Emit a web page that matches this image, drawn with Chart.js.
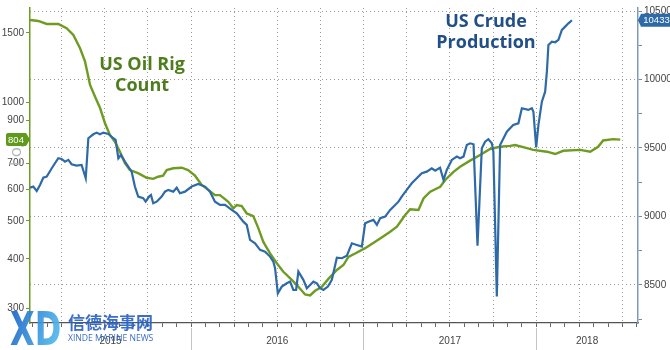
<!DOCTYPE html>
<html>
<head>
<meta charset="utf-8">
<script src="https://cdn.jsdelivr.net/npm/chart.js@4.4.0/dist/chart.umd.min.js"></script>
<style>
  body { margin: 0; background: #fff; }
</style>
</head>
<body>
<canvas id="chart" width="670" height="350"></canvas>
<script>
// US oil rig count (left, log scale) - decimal years
const rigYears = [2015.067, 2015.115, 2015.164, 2015.231, 2015.279, 2015.318, 2015.357, 2015.386, 2015.415, 2015.444,
  2015.473, 2015.501, 2015.530, 2015.559, 2015.588, 2015.617, 2015.646, 2015.693, 2015.743, 2015.781,
  2015.809, 2015.838, 2015.859, 2015.897, 2015.946, 2015.983, 2016.023, 2016.062, 2016.100, 2016.139,
  2016.168, 2016.216, 2016.245, 2016.265, 2016.294, 2016.323, 2016.361, 2016.390, 2016.419, 2016.458,
  2016.497, 2016.535, 2016.584, 2016.622, 2016.661, 2016.690, 2016.719, 2016.758, 2016.796, 2016.845,
  2016.883, 2016.912, 2016.951, 2017.009, 2017.038, 2017.096, 2017.154, 2017.193, 2017.241, 2017.270,
  2017.318, 2017.347, 2017.386, 2017.444, 2017.473, 2017.521, 2017.559, 2017.617, 2017.675, 2017.733,
  2017.791, 2017.849, 2017.878, 2017.925, 2017.983, 2018.062, 2018.110, 2018.157, 2018.255, 2018.313,
  2018.359, 2018.388, 2018.446, 2018.487];
const rigCount = [1619, 1609, 1581, 1581, 1542, 1483, 1372, 1268, 1107, 1033,
  967, 886, 826, 794, 749, 701, 673, 661, 643, 639,
  647, 651, 673, 680, 682, 673, 651, 617, 599, 581,
  581, 559, 538, 548, 545, 522, 514, 479, 442, 413,
  390, 371, 354, 340, 325, 323, 332, 340, 356, 375,
  386, 405, 413, 426, 434, 451, 469, 483, 517, 535,
  533, 570, 593, 610, 635, 666, 686, 711, 735, 761,
  771, 775, 779, 769, 757, 749, 739, 753, 757, 749,
  771, 800, 806, 804];

// US crude production (right axis, kb/d)
const prodYears = [2015.067, 2015.086, 2015.106, 2015.125, 2015.144, 2015.164, 2015.193, 2015.231, 2015.250, 2015.270,
  2015.289, 2015.308, 2015.337, 2015.366, 2015.390, 2015.405, 2015.434, 2015.453, 2015.472, 2015.492,
  2015.521, 2015.550, 2015.563, 2015.579, 2015.594, 2015.617, 2015.656, 2015.675, 2015.694, 2015.723,
  2015.737, 2015.757, 2015.768, 2015.781, 2015.801, 2015.830, 2015.849, 2015.868, 2015.897, 2015.917,
  2015.936, 2015.965, 2016.004, 2016.042, 2016.081, 2016.110, 2016.139, 2016.168, 2016.197, 2016.236,
  2016.265, 2016.303, 2016.323, 2016.342, 2016.371, 2016.400, 2016.429, 2016.458, 2016.477, 2016.487,
  2016.503, 2016.526, 2016.555, 2016.574, 2016.593, 2016.609, 2016.622, 2016.651, 2016.671, 2016.690,
  2016.709, 2016.729, 2016.748, 2016.767, 2016.793, 2016.816, 2016.845, 2016.874, 2016.903, 2016.932,
  2016.961, 2016.990, 2017.009, 2017.028, 2017.057, 2017.077, 2017.096, 2017.125, 2017.154, 2017.183,
  2017.202, 2017.221, 2017.250, 2017.279, 2017.308, 2017.337, 2017.366, 2017.395, 2017.415, 2017.443,
  2017.463, 2017.482, 2017.511, 2017.540, 2017.559, 2017.579, 2017.598, 2017.617, 2017.637, 2017.660,
  2017.685, 2017.704, 2017.723, 2017.743, 2017.752, 2017.772, 2017.791, 2017.830, 2017.867, 2017.897,
  2017.917, 2017.954, 2017.975, 2017.984, 2018.000, 2018.013, 2018.033, 2018.052, 2018.062, 2018.071,
  2018.091, 2018.110, 2018.129, 2018.149, 2018.168, 2018.187, 2018.207];
const crudeProd = [9210, 9218, 9186, 9230, 9283, 9291, 9352, 9425, 9420, 9400,
  9413, 9381, 9371, 9376, 9279, 9571, 9600, 9612, 9600, 9612,
  9602, 9571, 9559, 9425, 9449, 9400, 9327, 9218, 9145, 9133,
  9108, 9145, 9157, 9096, 9108, 9145, 9181, 9194, 9181, 9210,
  9169, 9181, 9218, 9237, 9218, 9181, 9108, 9084, 9084, 9048,
  9023, 8962, 8938, 8829, 8804, 8756, 8743, 8707, 8670, 8622,
  8439, 8488, 8512, 8524, 8463, 8463, 8597, 8537, 8476, 8500,
  8524, 8512, 8476, 8463, 8488, 8537, 8699, 8695, 8714, 8804,
  8792, 8780, 8950, 8962, 8975, 8938, 8987, 8999, 9048, 9084,
  9108, 9145, 9194, 9242, 9279, 9315, 9327, 9352, 9334, 9356,
  9267, 9340, 9413, 9437, 9425, 9437, 9522, 9534, 9527, 8787,
  9498, 9546, 9564, 9534, 9473, 8415, 9522, 9619, 9668, 9680,
  9790, 9778, 9790, 9765, 9504, 9668, 9838, 9911, 10057, 10252,
  10276, 10272, 10289, 10362, 10386, 10410, 10433];

const yearLabels = [2015, 2016, 2017, 2018];
const leftTicks = [300, 400, 500, 600, 700, 800, 900, 1000, 1500];
const rightTicks = [8250, 8500, 8750, 9000, 9250, 9500, 9750, 10000, 10250, 10500];

const X_MIN = 2015.067;
const X_MAX = 2018.59;
const GREEN = '#6e9c22';
const BLUE = '#2f6aa8';
const DOTS = '#9c9c9c';
const TICK_FONT = { size: 10, family: '"Liberation Sans", Arial, sans-serif' };

const monthTicks = [];
yearLabels.forEach(y => {
  for (let m = 0; m < 12; m++) {
    const v = y + m / 12;
    if (v >= X_MIN && v <= X_MAX) monthTicks.push(v);
  }
});
const isQuarter = v => Math.round((v - Math.floor(v)) * 12) % 3 === 0;

// year separators + label positions in the middle of each visible year
const yearTicks = [];
yearLabels.forEach(y => {
  if (y > X_MIN) yearTicks.push(y);
  const a = Math.max(y, X_MIN), b = Math.min(y + 1, X_MAX);
  yearTicks.push((a + b) / 2);
});
yearTicks.sort((a, b) => a - b);

const toPoints = (xs, ys) => xs.map((x, i) => ({ x: x, y: ys[i] }));

function badge(ctx, text, tipX, y, color, side) {
  ctx.save();
  ctx.font = '9.5px "Liberation Sans", Arial, sans-serif';
  const w = Math.ceil(ctx.measureText(text).width) + 4, h = 13, r = 2;
  const bx = side === 'left' ? tipX - 4 - w : tipX + 3;
  ctx.fillStyle = color;
  ctx.beginPath();
  if (side === 'left') {
    ctx.moveTo(bx + r, y - h / 2);
    ctx.lineTo(bx + w, y - h / 2);
    ctx.lineTo(tipX, y);
    ctx.lineTo(bx + w, y + h / 2);
    ctx.lineTo(bx + r, y + h / 2);
    ctx.quadraticCurveTo(bx, y + h / 2, bx, y + h / 2 - r);
    ctx.lineTo(bx, y - h / 2 + r);
    ctx.quadraticCurveTo(bx, y - h / 2, bx + r, y - h / 2);
  } else {
    ctx.moveTo(tipX, y);
    ctx.lineTo(bx, y - h / 2);
    ctx.lineTo(bx + w - r, y - h / 2);
    ctx.quadraticCurveTo(bx + w, y - h / 2, bx + w, y - h / 2 + r);
    ctx.lineTo(bx + w, y + h / 2 - r);
    ctx.quadraticCurveTo(bx + w, y + h / 2, bx + w - r, y + h / 2);
    ctx.lineTo(bx, y + h / 2);
  }
  ctx.closePath();
  ctx.fill();
  ctx.fillStyle = '#fff';
  ctx.textAlign = 'center';
  ctx.textBaseline = 'middle';
  ctx.fillText(text, bx + w / 2, y + 0.5);
  ctx.restore();
}

const extras = {
  id: 'extras',
  afterDraw(chart) {
    const { ctx, scales, chartArea } = chart;

    // "Log" axis note, light grey, partly behind the badge
    ctx.save();
    ctx.translate(16, 152);
    ctx.rotate(-Math.PI / 2);
    ctx.font = '17px "Open Sans", sans-serif';
    ctx.fillStyle = '#b4b4b4';
    ctx.textAlign = 'center';
    ctx.textBaseline = 'middle';
    ctx.fillText('Log', 0, 0);
    ctx.restore();

    const lastRig = rigCount[rigCount.length - 1];
    const lastProd = crudeProd[crudeProd.length - 1];
    badge(ctx, String(lastRig), chartArea.left, scales.y.getPixelForValue(lastRig), '#5f9a1c', 'left');
    badge(ctx, String(lastProd), chartArea.right, scales.y1.getPixelForValue(lastProd), BLUE, 'right');

    ctx.save();
    ctx.textAlign = 'center';
    ctx.textBaseline = 'middle';
    ctx.font = 'bold 18px "Open Sans", sans-serif';
    ctx.fillStyle = '#4d7d1d';
    ctx.fillText('US Oil Rig', 142, 65);
    ctx.fillText('Count', 142, 86);
    ctx.fillStyle = '#214f88';
    ctx.fillText('US Crude', 486, 22);
    ctx.fillText('Production', 486, 43);

    // watermark logo
    ctx.globalAlpha = 0.92;
    ctx.textAlign = 'left';
    ctx.textBaseline = 'alphabetic';
    ctx.save();
    ctx.translate(10, 345);
    ctx.scale(1, 1.45);
    const g = ctx.createLinearGradient(0, -24, 52, 0);
    g.addColorStop(0, '#1b63c8');
    g.addColorStop(1, '#58c3ef');
    ctx.fillStyle = g;
    ctx.font = 'bold 32px "DejaVu Sans", sans-serif';
    ctx.fillText('XD', 0, 0);
    ctx.restore();
    ctx.fillStyle = '#2a62c2';
    ctx.font = 'bold 17px "Noto Sans CJK SC", sans-serif';
    ctx.fillText('信德海事网', 68, 329);
    ctx.font = '8.6px "Open Sans", sans-serif';
    ctx.fillText('XINDE MARINE NEWS', 68, 341);
    ctx.restore();
  }
};

new Chart(document.getElementById('chart'), {
  type: 'line',
  data: {
    datasets: [{
      data: toPoints(prodYears, crudeProd),
      xAxisID: 'x',
      yAxisID: 'y1',
      borderColor: BLUE,
      borderWidth: 2.2,
      pointRadius: 0,
      tension: 0
    }, {
      data: toPoints(rigYears, rigCount),
      xAxisID: 'x',
      yAxisID: 'y',
      borderColor: GREEN,
      borderWidth: 2.4,
      pointRadius: 0,
      tension: 0
    }]
  },
  options: {
    responsive: false,
    animation: false,
    layout: { padding: { top: 8, left: 0, right: 0, bottom: 0 } },
    plugins: { legend: { display: false }, tooltip: { enabled: false } },
    scales: {
      x: {
        type: 'linear',
        position: 'bottom',
        weight: 0,
        min: X_MIN,
        max: X_MAX,
        afterBuildTicks: s => { s.ticks = monthTicks.map(v => ({ value: v })); },
        afterFit: s => { s.height = 5; },
        ticks: { display: false, autoSkip: false },
        grid: {
          color: c => (c.tick && isQuarter(c.tick.value)) ? DOTS : 'rgba(0,0,0,0)',
          tickColor: '#666',
          tickLength: 4,
          lineWidth: 1
        },
        border: { color: '#555', width: 1.3, dash: [1, 3] }
      },
      x2: {
        type: 'linear',
        position: 'bottom',
        weight: 1,
        min: X_MIN,
        max: X_MAX,
        afterBuildTicks: s => { s.ticks = yearTicks.map(v => ({ value: v })); },
        afterFit: s => { s.height = 22; },
        ticks: {
          autoSkip: false,
          maxRotation: 0,
          padding: -15,
          color: '#444',
          font: TICK_FONT,
          callback: v => Number.isInteger(v) ? '' : String(Math.floor(v))
        },
        grid: {
          drawOnChartArea: false,
          tickLength: 22,
          tickColor: c => (c.tick && Number.isInteger(c.tick.value)) ? '#c4c4c4' : 'rgba(0,0,0,0)'
        },
        border: { display: false }
      },
      y: {
        type: 'logarithmic',
        position: 'left',
        min: 275,
        max: 1736,
        afterBuildTicks: s => { s.ticks = leftTicks.map(v => ({ value: v })); },
        afterFit: s => { s.width = 30; },
        ticks: { color: '#444', padding: 2, font: TICK_FONT, callback: v => String(v) },
        grid: { drawOnChartArea: false, tickLength: 4, tickColor: GREEN },
        border: { color: GREEN, width: 1.5 }
      },
      y1: {
        type: 'linear',
        position: 'right',
        min: 8222,
        max: 10522,
        afterBuildTicks: s => { s.ticks = rightTicks.map(v => ({ value: v })); },
        afterFit: s => { s.width = 32; },
        ticks: {
          color: '#444',
          padding: 2,
          font: TICK_FONT,
          callback: v => v % 500 === 0 ? String(v) : ''
        },
        grid: {
          color: c => (c.tick && c.tick.value % 500 === 0) ? DOTS : 'rgba(0,0,0,0)',
          tickColor: '#6f8fae',
          tickLength: 4
        },
        border: { color: '#7f9bb6', width: 1.5, dash: [1, 3] }
      }
    }
  },
  plugins: [extras]
});
</script>
</body>
</html>
